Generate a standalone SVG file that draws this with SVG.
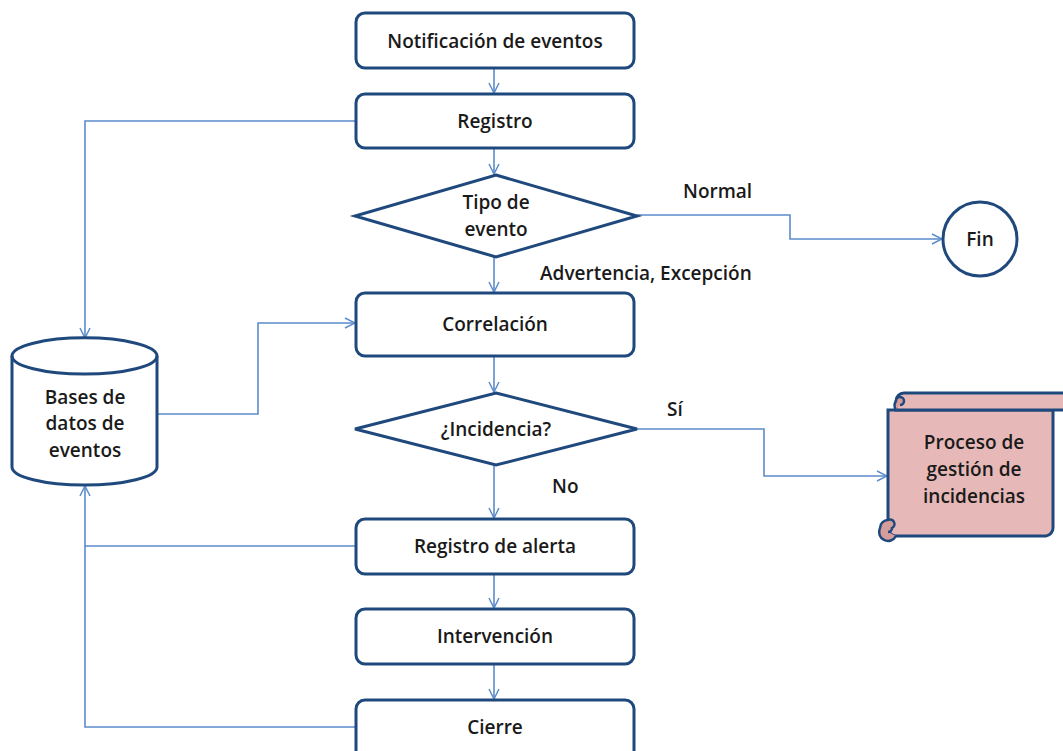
<svg xmlns="http://www.w3.org/2000/svg" width="1063" height="751" viewBox="0 0 1063 751">
  <style>
    .node { fill: #ffffff; stroke: #1f497d; stroke-width: 3; }
    .conn { fill: none; stroke: #5b8ccb; stroke-width: 1.6; }
    .lbl { font-family: "Open Sans", "Liberation Sans", Arial, sans-serif; font-weight: 600; font-size: 19px; fill: #1a1a1a; text-anchor: middle; dominant-baseline: central; }
    .edge-lbl { font-family: "Open Sans", "Liberation Sans", Arial, sans-serif; font-weight: 600; font-size: 19px; fill: #1a1a1a; }
  </style>
  <defs>
    <marker id="open-arrow" viewBox="0 0 12 12" refX="11" refY="6" markerWidth="12" markerHeight="12" markerUnits="userSpaceOnUse" orient="auto">
      <path d="M1,1 L11,6 L1,11" fill="none" stroke="#5b8ccb" stroke-width="1.5"/>
    </marker>
  </defs>
  <rect width="1063" height="751" fill="#ffffff"/>

  <g id="connectors">
    <line class="conn" x1="494" y1="68" x2="494" y2="93" marker-end="url(#open-arrow)"/>
    <line class="conn" x1="494" y1="148" x2="494" y2="174" marker-end="url(#open-arrow)"/>
    <line class="conn" x1="494" y1="257" x2="494" y2="292" marker-end="url(#open-arrow)"/>
    <line class="conn" x1="494" y1="356" x2="494" y2="392" marker-end="url(#open-arrow)"/>
    <line class="conn" x1="494" y1="465" x2="494" y2="518" marker-end="url(#open-arrow)"/>
    <line class="conn" x1="494" y1="574" x2="494" y2="608" marker-end="url(#open-arrow)"/>
    <line class="conn" x1="494" y1="664" x2="494" y2="699" marker-end="url(#open-arrow)"/>
    <polyline class="conn" points="356,121 85,121 85,338" marker-end="url(#open-arrow)"/>
    <polyline class="conn" points="157,414 258,414 258,323 355,323" marker-end="url(#open-arrow)"/>
    <polyline class="conn" points="356,546 85,546 85,486" marker-end="url(#open-arrow)"/>
    <polyline class="conn" points="356,727 85,727 85,546"/>
    <polyline class="conn" points="637,215 790,215 790,239 942,239" marker-end="url(#open-arrow)"/>
    <polyline class="conn" points="637,429 764,429 764,476 887,476" marker-end="url(#open-arrow)"/>
    <text class="edge-lbl" x="683" y="198">Normal</text>
    <text class="edge-lbl" x="540" y="280">Advertencia, Excepción</text>
    <text class="edge-lbl" x="667" y="416">Sí</text>
    <text class="edge-lbl" x="552" y="493">No</text>
  </g>

  <g id="notificacion">
    <rect class="node" x="356" y="13" width="278" height="55" rx="9"/>
    <text class="lbl" x="495" y="41">Notificación de eventos</text>
  </g>
  <g id="registro">
    <rect class="node" x="356" y="94" width="278" height="54" rx="9"/>
    <text class="lbl" x="495" y="121">Registro</text>
  </g>
  <g id="tipo-evento">
    <polygon class="node" points="496,175 637,216 496,257 355,216"/>
    <text class="lbl" x="496" y="202">Tipo de</text>
    <text class="lbl" x="496" y="229">evento</text>
  </g>
  <g id="correlacion">
    <rect class="node" x="356" y="293" width="278" height="63" rx="9"/>
    <text class="lbl" x="495" y="324">Correlación</text>
  </g>
  <g id="incidencia">
    <polygon class="node" points="496,393 637,429 496,465 355,429"/>
    <text class="lbl" x="496" y="429">¿Incidencia?</text>
  </g>
  <g id="registro-alerta">
    <rect class="node" x="356" y="519" width="278" height="55" rx="9"/>
    <text class="lbl" x="495" y="546">Registro de alerta</text>
  </g>
  <g id="intervencion">
    <rect class="node" x="356" y="609" width="278" height="55" rx="9"/>
    <text class="lbl" x="495" y="636">Intervención</text>
  </g>
  <g id="cierre">
    <rect class="node" x="356" y="700" width="278" height="60" rx="9"/>
    <text class="lbl" x="495" y="727">Cierre</text>
  </g>
  <g id="fin">
    <circle class="node" cx="980" cy="239" r="37"/>
    <text class="lbl" x="980" y="239">Fin</text>
  </g>
  <g id="bases-datos">
    <path class="node" d="M12,356 A72,18 0 0 1 157,356 L157,467 A72,18 0 0 1 12,467 Z"/>
    <path d="M12,356 A72,18 0 0 0 157,356" fill="none" stroke="#1f497d" stroke-width="3"/>
    <text class="lbl" x="85" y="397">Bases de</text>
    <text class="lbl" x="85" y="423">datos de</text>
    <text class="lbl" x="85" y="450">eventos</text>
  </g>
  <g id="proceso-incidencias">
    <!-- scroll body -->
    <path d="M888,410 L888,528 A8,8 0 0 0 896,536 L1046,536 A8,8 0 0 0 1053,528 L1053,410 Z" fill="#e6b9b8" stroke="#1f497d" stroke-width="3"/>
    <!-- top roll band -->
    <path d="M896,401 A8,8 0 0 1 904,393 L1066,393 L1066,410 L896,410 Z" fill="#e6b9b8" stroke="#1f497d" stroke-width="3"/>
    <path d="M896,410 A8,8 0 0 1 896,401 A4,4 0 0 1 904,401 A4,4 0 0 1 900,405" fill="#d49d9c" stroke="#1f497d" stroke-width="2.5"/>
    <!-- bottom roll -->
    <path d="M896,536 A8,8 0 0 1 880,528 A8,8 0 0 1 888,520 A4,4 0 0 1 892,528 A4,4 0 0 1 888,532" fill="#d49d9c" stroke="#1f497d" stroke-width="2.5"/>
    <text class="lbl" x="974" y="442">Proceso de</text>
    <text class="lbl" x="974" y="469">gestión de</text>
    <text class="lbl" x="974" y="496">incidencias</text>
  </g>
</svg>
